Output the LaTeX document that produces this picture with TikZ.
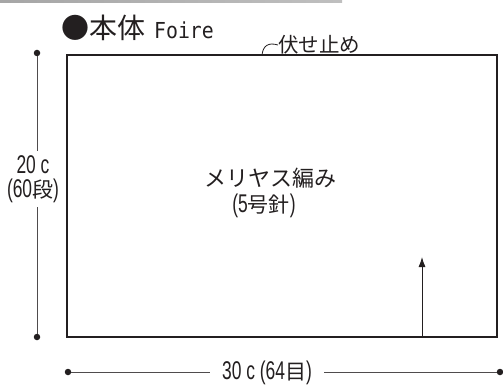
\documentclass[tikz,border=0pt]{standalone}
\usepackage{fontspec}
\usetikzlibrary{arrows.meta}
\setmainfont{Noto Sans CJK JP}
\newfontfamily\jp{Noto Sans CJK JP}
\newfontfamily\cond[FakeStretch=0.68,Scale=1.22]{Liberation Sans}
\newfontfamily\monofoire[FakeStretch=0.9,Scale=1.1]{DejaVu Sans Mono}
\definecolor{ink}{HTML}{231F20}
\tikzset{
  lbl/.style={text=ink, inner sep=0pt},
  dimline/.style={draw=ink!80, line width=0.9pt},
  dimdot/.style={circle, fill=ink, inner sep=0pt, minimum size=6.5pt},
  body/.style={draw=ink, line width=2.3pt},
}
\begin{document}
\begin{tikzpicture}[x=1pt,y=-1pt]
\useasboundingbox (0,0) rectangle (503,385);
% grey strip at top
\fill[left color=gray!70, right color=gray!50] (0,0) rectangle (342,3);
% title
\node[lbl, anchor=west, font=\fontsize{28}{30}\selectfont] (title) at (61,28) {\jp ●本体\hspace{9pt}{\monofoire\fontsize{20}{24}\selectfont Foire}};
% body rectangle
\node[body, minimum width=430pt, minimum height=282pt, inner sep=0pt] (rect) at (282,196) {};
% bind-off label
\node[lbl, anchor=west, font=\fontsize{20.5}{22}\selectfont] (bind) at (278,45) {\jp 伏せ止め};
\coordinate (bindstart) at (262,55);
\draw[ink, line width=0.8pt] (bindstart) .. controls (263,46) and (268,42) .. (bind.west);
% centre text
\node[lbl, font=\fontsize{22}{24}\selectfont] (st) at (270,178) {\jp メリヤス編み};
\node[lbl, font=\fontsize{21}{24}\selectfont] (ndl) at (264,206) {{\cond (5}\jp 号針{\cond )}};
% arrow
\coordinate (arrbot) at (422,337);
\coordinate (arrtop) at (422,257);
\draw[ink, line width=0.9pt, -{Latex[length=10pt,width=7pt]}] (arrbot) -- (arrtop);
% left dimension
\node[dimdot] (lt) at (37,53) {};
\node[dimdot] (lb) at (37,337) {};
\node[lbl, align=center, inner ysep=4pt, font=\fontsize{21}{24}\selectfont] (hlab) at (33,179) {{\cond 20 c}\\{\cond (60}\jp 段{\cond )}};
\draw[dimline] (lt) -- (lt |- hlab.north);
\draw[dimline] (lb) -- (lb |- hlab.south);
% bottom dimension
\node[dimdot] (bl) at (68,372) {};
\node[dimdot] (br) at (500,372) {};
\node[lbl, inner xsep=12pt, font=\fontsize{21}{24}\selectfont] (wlab) at (267,373) {{\cond 30 c (64}\jp 目{\cond )}};
\draw[dimline] (bl) -- (bl -| wlab.west);
\draw[dimline] (br) -- (br -| wlab.east);
\end{tikzpicture}
\end{document}
